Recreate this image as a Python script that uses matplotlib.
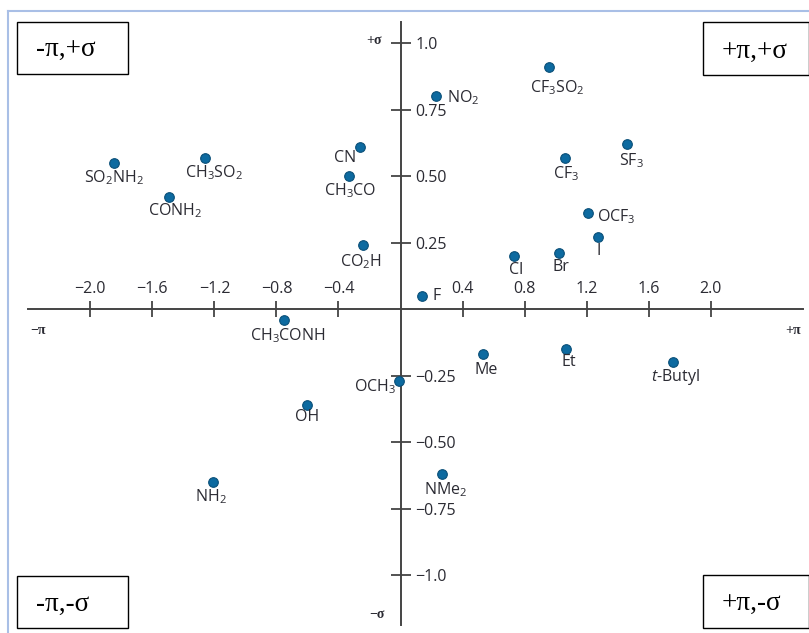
import matplotlib
matplotlib.use("Agg")
import matplotlib.pyplot as plt
from matplotlib.patches import Rectangle
from matplotlib.lines import Line2D

# Craig plot: hydrophobicity (pi) vs Hammett sigma
substituents = ["SO$_2$NH$_2$", "CH$_3$SO$_2$", "CONH$_2$", "CN", "CH$_3$CO", "CO$_2$H",
                "NO$_2$", "CF$_3$SO$_2$", "SF$_3$", "CF$_3$", "OCF$_3$", "I", "Cl", "Br", "F",
                "CH$_3$CONH", "OCH$_3$", "OH", "NH$_2$", "Me", "Et", "$t$-Butyl", "NMe$_2$"]
pi_values = [-1.85, -1.26, -1.49, -0.26, -0.33, -0.24,
             0.23, 0.96, 1.46, 1.06, 1.21, 1.27, 0.73, 1.02, 0.14,
             -0.75, -0.01, -0.60, -1.21, 0.53, 1.07, 1.76, 0.27]
sigma_values = [0.55, 0.57, 0.42, 0.61, 0.50, 0.24,
                0.80, 0.91, 0.62, 0.57, 0.36, 0.27, 0.20, 0.21, 0.05,
                -0.04, -0.27, -0.36, -0.65, -0.17, -0.15, -0.20, -0.62]

x_ticks = [-2.0, -1.6, -1.2, -0.8, -0.4, 0.4, 0.8, 1.2, 1.6, 2.0]
x_ticklabels = ["\u22122.0", "\u22121.6", "\u22121.2", "\u22120.8", "\u22120.4",
                "0.4", "0.8", "1.2", "1.6", "2.0"]
y_ticks = [1.0, 0.75, 0.5, 0.25, -0.25, -0.5, -0.75, -1.0]
y_ticklabels = ["1.0", "0.75", "0.50", "0.25", "\u22120.25", "\u22120.50", "\u22120.75", "\u22121.0"]

quadrants = ["-\u03c0,+\u03c3", "+\u03c0,+\u03c3", "-\u03c0,-\u03c3", "+\u03c0,-\u03c3"]

# label placement: (dx, dy) in pixels from the point (dy downwards), alignment
label_layout = [(0, 15, "center"), (9, 15, "center"), (6, 13, "center"), (-15, 11, "center"),
                (1, 14, "center"), (-2, 16, "center"), (11, 1, "left"), (8, 20, "center"),
                (4, 16, "center"), (1, 16, "center"), (9, 3, "left"), (1, 14, "center"),
                (2, 14, "center"), (2, 14, "center"), (10, 0, "left"), (4, 16, "center"),
                (-24, 6, "center"), (0, 12, "center"), (-2, 15, "center"), (3, 16, "center"),
                (2, 13, "center"), (2, 15, "center"), (3, 16, "center")]

plt.rcParams["font.family"] = ["Open Sans", "DejaVu Sans"]
plt.rcParams["mathtext.fontset"] = "custom"
plt.rcParams["mathtext.rm"] = "Open Sans"
plt.rcParams["mathtext.it"] = "Open Sans:italic"
plt.rcParams["mathtext.bf"] = "Open Sans:bold"

W, H = 809, 633
fig = plt.figure(figsize=(W / 100, H / 100), dpi=100)
text_col = "#2b2b33"
axis_col = "#444444"

ax = fig.add_axes([28 / W, 1 - 625 / H, (803 - 28) / W, (625 - 22) / H])
ax.set_xlim(-2.402, 2.595)
ax.set_ylim(-1.188, 1.080)
ax.patch.set_alpha(0)

ax.spines["bottom"].set_visible(False)
ax.spines["left"].set_visible(False)
ax.spines["top"].set_position(("data", 0))
ax.spines["right"].set_position(("data", 0))
for s in ("top", "right"):
    ax.spines[s].set_color(axis_col)
    ax.spines[s].set_linewidth(1.4)

ax.xaxis.set_ticks_position("top")
ax.yaxis.set_ticks_position("right")
ax.set_xticks(x_ticks)
ax.set_xticklabels(x_ticklabels)
ax.set_yticks(y_ticks)
ax.set_yticklabels(y_ticklabels)
ax.tick_params(axis="x", direction="inout", length=12, width=1.3, color=axis_col,
               pad=3, labelsize=11.5, labelcolor=text_col)
ax.tick_params(axis="y", direction="inout", length=15, width=1.3, color=axis_col,
               pad=3, labelsize=11.5, labelcolor=text_col)

ax.scatter(pi_values, sigma_values, s=48, color="#0d6aa0", edgecolor="#0a4f78",
           linewidth=0.8, zorder=3, clip_on=False)

for name, px, sg, (dx, dy, ha) in zip(substituents, pi_values, sigma_values, label_layout):
    ax.annotate(name, (px, sg), xytext=(dx, -dy), textcoords="offset pixels",
                ha=ha, va="center", fontsize=11.5, color=text_col, zorder=4)

# small axis-end labels
end_font = dict(family="Liberation Serif", fontsize=10, color=text_col, fontweight="bold")
fig.text(374 / W, 1 - 41 / H, "+\u03c3", ha="center", va="center", **end_font)
fig.text(38 / W, 1 - 331 / H, "\u2212\u03c0", ha="center", va="center", **end_font)
fig.text(793 / W, 1 - 331 / H, "+\u03c0", ha="center", va="center", **end_font)
fig.text(377 / W, 1 - 614 / H, "\u2212\u03c3", ha="center", va="center", **end_font)

# quadrant boxes
boxes = [(17, 22, 111, 52, 36, 49), (703, 22, 106, 53, 722, 51),
         (17, 576, 111, 52, 36, 604), (703, 575, 106, 53, 722, 603)]
for label, (bx, by, bw, bh, tx, ty) in zip(quadrants, boxes):
    fig.patches.append(Rectangle((bx / W, 1 - (by + bh) / H), bw / W, bh / H,
                                 transform=fig.transFigure, facecolor="white",
                                 edgecolor="black", linewidth=1.0))
    fig.text(tx / W, 1 - ty / H, label, ha="left", va="center",
             family="Liberation Serif", fontsize=19.5, color="black")

# light blue frame (top and left edges)
fig.add_artist(Line2D([8 / W, 1], [1 - 10.5 / H, 1 - 10.5 / H], transform=fig.transFigure,
                      color="#a9bfe6", linewidth=1.5))
fig.add_artist(Line2D([8.3 / W, 8.3 / W], [0, 1 - 10.5 / H], transform=fig.transFigure,
                      color="#a9bfe6", linewidth=1.5))

fig.savefig("out.png", dpi=100)
